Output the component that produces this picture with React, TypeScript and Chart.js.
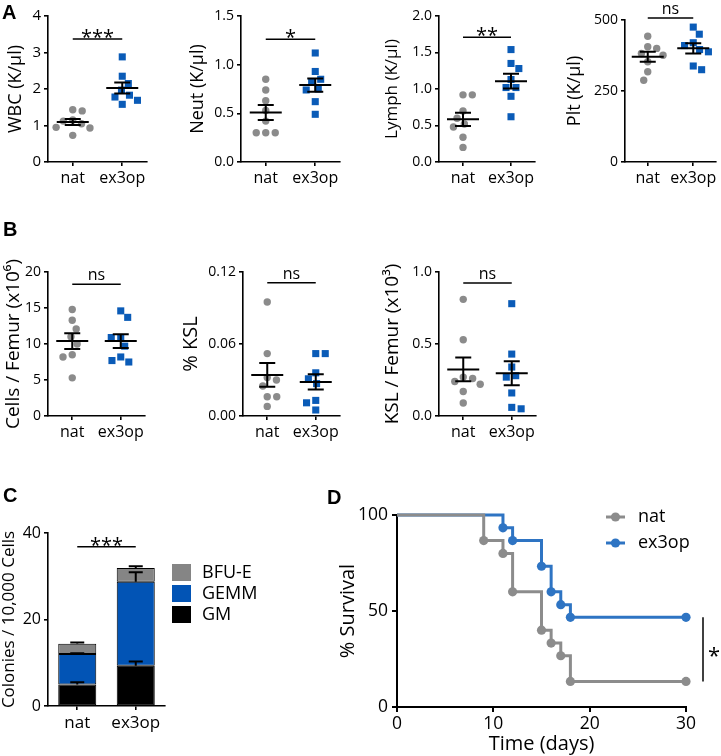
import React, { useEffect, useRef } from 'react';
import { Chart, registerables } from 'chart.js';

Chart.register(...registerables);

const FONT = '"Open Sans", "Noto Sans", sans-serif';
const LETTER_FONT = '"Liberation Sans", Arial, sans-serif';
Chart.defaults.font.family = FONT;
Chart.defaults.color = '#000';

// ---------------- data ----------------
const GROUPS = ['nat', 'ex3op'];

// Panel A – peripheral blood counts
const wbcNat = [1.43, 1.40, 1.15, 1.12, 1.05, 0.95, 0.93, 0.73];
const wbcEx3op = [2.88, 2.35, 2.15, 1.97, 1.83, 1.78, 1.69, 1.58];
const wbcTicks = [0, 1, 2, 3, 4];

const neutNat = [0.85, 0.74, 0.63, 0.53, 0.42, 0.30, 0.30, 0.30];
const neutEx3op = [1.12, 0.93, 0.85, 0.82, 0.75, 0.74, 0.62, 0.49];
const neutTicks = [0, 0.5, 1.0, 1.5];

const lymphNat = [0.92, 0.92, 0.70, 0.60, 0.52, 0.48, 0.34, 0.20];
const lymphEx3op = [1.54, 1.35, 1.28, 1.13, 1.02, 1.02, 0.90, 0.62];
const lymphTicks = [0, 0.5, 1.0, 1.5, 2.0];

const pltNat = [443, 406, 400, 382, 376, 353, 318, 288];
const pltEx3op = [475, 450, 420, 410, 396, 388, 338, 325];
const pltTicks = [0, 250, 500];

// Panel B – bone marrow
const cellsNat = [14.8, 13.3, 12.1, 11.0, 10.0, 8.5, 8.2, 5.3];
const cellsEx3op = [14.6, 13.7, 10.9, 10.9, 9.7, 8.2, 7.7, 7.5];
const cellsTicks = [0, 5, 10, 15, 20];

const kslPctNat = [0.095, 0.052, 0.032, 0.030, 0.025, 0.016, 0.016, 0.008];
const kslPctEx3op = [0.052, 0.052, 0.036, 0.031, 0.027, 0.013, 0.011, 0.005];
const kslPctTicks = [0, 0.06, 0.12];

const kslNat = [0.81, 0.53, 0.27, 0.26, 0.24, 0.22, 0.17, 0.09];
const kslEx3op = [0.78, 0.43, 0.34, 0.28, 0.27, 0.16, 0.06, 0.05];
const kslTicks = [0, 0.5, 1.0];

// Panel C – colonies (stacked), order bottom -> top
const colonyTypes = ['GM', 'GEMM', 'BFU-E'];
const gmColonies = [5.0, 9.3];
const gemmColonies = [7.0, 19.4];
const bfuColonies = [2.4, 3.2];
const gmErr = [0.5, 1.0];
const gemmErr = [0.2, 2.2];
const bfuErr = [0.3, 0.4];
const colonyTicks = [0, 20, 40];

// Panel D – survival
const natDays = [0, 9, 11, 12, 15, 16, 17, 18, 30];
const natSurvival = [100, 86.7, 80, 60, 40, 33.3, 26.7, 13.3, 13.3];
const ex3opDays = [0, 11, 12, 15, 16, 17, 18, 30];
const ex3opSurvival = [100, 93.3, 86.7, 73.3, 60, 53.3, 46.7, 46.7];
const survivalTicks = [0, 50, 100];
const dayTicks = [0, 10, 20, 30];

// ---------------- colours ----------------
const DOT_GRAY = '#8b8b8b';
const SQUARE_BLUE = '#0a5bb7';
const BAR_COLORS = ['#000000', '#0254b5', '#858585'];
const LINE_GRAY = '#8c8c8c';
const LINE_BLUE = '#2e74c3';

// ---------------- helpers ----------------
function meanSem(values: number[]) {
  const n = values.length;
  const mean = values.reduce((a, b) => a + b, 0) / n;
  const sd = Math.sqrt(values.reduce((a, b) => a + (b - mean) ** 2, 0) / (n - 1));
  return { mean, sem: sd / Math.sqrt(n) };
}

function beeswarmOffsets(values: number[], pxPerUnit: number, spacing: number): number[] {
  const order = values.map((_, i) => i).sort((a, b) => values[b] - values[a]);
  const placed: { x: number; y: number }[] = [];
  const out = new Array(values.length).fill(0);
  let flip = 1;
  for (const i of order) {
    const y = values[i] * pxPerUnit;
    const blocks: [number, number][] = [];
    for (const p of placed) {
      const dy = Math.abs(p.y - y);
      if (dy < spacing) {
        const dx = Math.sqrt(spacing * spacing - dy * dy);
        blocks.push([p.x - dx, p.x + dx]);
      }
    }
    const cands = [0];
    blocks.forEach(([a, b]) => cands.push(a, b));
    cands.sort((a, b) => Math.abs(a) - Math.abs(b) || (b - a) * flip);
    let x = 0;
    for (const c of cands) {
      if (blocks.every(([a, b]) => c <= a + 1e-6 || c >= b - 1e-6)) { x = c; break; }
    }
    if (x !== 0) flip = -flip;
    placed.push({ x, y });
    out[i] = x;
  }
  return out;
}

function drawSig(ctx: CanvasRenderingContext2D, x1: number, x2: number, y: number, label: string) {
  ctx.save();
  ctx.strokeStyle = '#000';
  ctx.lineWidth = 1.5;
  ctx.beginPath();
  ctx.moveTo(x1, y);
  ctx.lineTo(x2, y);
  ctx.stroke();
  ctx.fillStyle = '#000';
  ctx.textAlign = 'center';
  ctx.textBaseline = 'alphabetic';
  if (label.includes('*')) {
    ctx.font = `20px ${FONT}`;
    ctx.fillText(label, (x1 + x2) / 2, y + 5);
  } else {
    ctx.font = `16px ${FONT}`;
    ctx.fillText(label, (x1 + x2) / 2, y - 4);
  }
  ctx.restore();
}

type Box = { left: number; top: number; width: number; height: number };

function axisStyle(tickSize: number, lineW = 1.6, tickLen = 4) {
  return {
    grid: { display: true, drawOnChartArea: false, drawTicks: true, tickLength: tickLen, color: '#000', lineWidth: lineW },
    border: { display: true, color: '#000', width: lineW },
    ticks: { color: '#000', font: { family: FONT, size: tickSize } },
  };
}

interface ScatterSpec {
  box: Box; axisX: number; plotTop: number; plotBottom: number; plotRight: number;
  ticks: number[]; decimals: number; title: string; titleSize: number; titleCenter: number;
  tickSize: number; labelSize: number; nat: number[]; ex: number[]; sigY: number; sig: string;
}

const scatterPanels: ScatterSpec[] = [
  { box: { left: 0, top: 0, width: 170, height: 192 }, axisX: 48, plotTop: 16, plotBottom: 162, plotRight: 147,
    ticks: wbcTicks, decimals: 0, title: 'WBC (K/µl)', titleSize: 18, titleCenter: 15.5, tickSize: 15, labelSize: 16,
    nat: wbcNat, ex: wbcEx3op, sigY: 3.37, sig: '***' },
  { box: { left: 180, top: 0, width: 175, height: 192 }, axisX: 241, plotTop: 16, plotBottom: 162, plotRight: 340,
    ticks: neutTicks, decimals: 1, title: 'Neut (K/µl)', titleSize: 18, titleCenter: 197.5, tickSize: 14, labelSize: 16,
    nat: neutNat, ex: neutEx3op, sigY: 1.26, sig: '*' },
  { box: { left: 360, top: 0, width: 180, height: 192 }, axisX: 439, plotTop: 16, plotBottom: 162, plotRight: 537,
    ticks: lymphTicks, decimals: 1, title: 'Lymph (K/µl)', titleSize: 17, titleCenter: 392.5, tickSize: 14, labelSize: 16,
    nat: lymphNat, ex: lymphEx3op, sigY: 1.71, sig: '**' },
  { box: { left: 545, top: 0, width: 176, height: 192 }, axisX: 625, plotTop: 20, plotBottom: 162, plotRight: 720,
    ticks: pltTicks, decimals: 0, title: 'Plt (K/µl)', titleSize: 18, titleCenter: 575, tickSize: 14, labelSize: 16,
    nat: pltNat, ex: pltEx3op, sigY: 507, sig: 'ns' },
  { box: { left: 0, top: 240, width: 175, height: 202 }, axisX: 48, plotTop: 272, plotBottom: 416, plotRight: 145,
    ticks: cellsTicks, decimals: 0, title: 'Cells / Femur (x10⁶)', titleSize: 19, titleCenter: 14, tickSize: 14, labelSize: 16,
    nat: cellsNat, ex: cellsEx3op, sigY: 18.3, sig: 'ns' },
  { box: { left: 175, top: 240, width: 175, height: 202 }, axisX: 243, plotTop: 272, plotBottom: 416, plotRight: 340,
    ticks: kslPctTicks, decimals: 2, title: '% KSL', titleSize: 20, titleCenter: 191, tickSize: 14, labelSize: 16,
    nat: kslPctNat, ex: kslPctEx3op, sigY: 0.111, sig: 'ns' },
  { box: { left: 360, top: 240, width: 185, height: 202 }, axisX: 439, plotTop: 272, plotBottom: 416, plotRight: 536,
    ticks: kslTicks, decimals: 1, title: 'KSL / Femur (x10³)', titleSize: 19, titleCenter: 393, tickSize: 14, labelSize: 16,
    nat: kslNat, ex: kslEx3op, sigY: 0.924, sig: 'ns' },
];

// ---------------- scatter (dot plot) panels ----------------
function ScatterPanel({ spec }: { spec: ScatterSpec }) {
  const ref = useRef<HTMLCanvasElement>(null);
  useEffect(() => {
    const s = spec;
    const yMin = s.ticks[0];
    const yMax = s.ticks[s.ticks.length - 1];
    const pxPerY = (s.plotBottom - s.plotTop) / (yMax - yMin);
    const pxPerX = (s.plotRight - s.axisX) / 2;
    const toPoints = (vals: number[], cat: number) => {
      const offs = beeswarmOffsets(vals, pxPerY, 9.5);
      return vals.map((v, i) => ({ x: cat + offs[i] / pxPerX, y: v }));
    };
    const titleLH = s.titleSize * 1.2;
    const ax = axisStyle(s.tickSize);
    const axX = axisStyle(s.labelSize);

    const meanSemPlugin = {
      id: 'meanSem',
      afterDatasetsDraw(chart: any) {
        const { ctx } = chart;
        const xs = chart.scales.x, ys = chart.scales.y;
        [s.nat, s.ex].forEach((vals, i) => {
          const { mean, sem } = meanSem(vals);
          const cx = xs.getPixelForValue(i + 1);
          const ym = ys.getPixelForValue(mean);
          const yh = ys.getPixelForValue(mean + sem);
          const yl = ys.getPixelForValue(mean - sem);
          ctx.save();
          ctx.strokeStyle = '#000';
          ctx.lineWidth = 2;
          ctx.beginPath();
          ctx.moveTo(cx - 16, ym); ctx.lineTo(cx + 16, ym);
          ctx.moveTo(cx, yh); ctx.lineTo(cx, yl);
          ctx.moveTo(cx - 8, yh); ctx.lineTo(cx + 8, yh);
          ctx.moveTo(cx - 8, yl); ctx.lineTo(cx + 8, yl);
          ctx.stroke();
          ctx.restore();
        });
      },
      afterDraw(chart: any) {
        const xs = chart.scales.x, ys = chart.scales.y;
        drawSig(chart.ctx, xs.getPixelForValue(1), xs.getPixelForValue(2), ys.getPixelForValue(s.sigY), s.sig);
      },
    };

    const chart = new Chart(ref.current as HTMLCanvasElement, {
      type: 'scatter',
      data: {
        datasets: [
          { label: GROUPS[0], data: toPoints(s.nat, 1), pointStyle: 'circle', pointRadius: 3.7,
            backgroundColor: DOT_GRAY, borderWidth: 0, clip: false } as any,
          { label: GROUPS[1], data: toPoints(s.ex, 2), pointStyle: 'rect', pointRadius: 5.0,
            backgroundColor: SQUARE_BLUE, borderWidth: 0, clip: false } as any,
        ],
      },
      options: {
        animation: false,
        responsive: false,
        events: [],
        layout: { padding: { left: 0, bottom: 0, top: s.plotTop - s.box.top, right: s.box.left + s.box.width - s.plotRight } },
        plugins: { legend: { display: false }, tooltip: { enabled: false } },
        scales: {
          x: {
            type: 'linear', min: 0.5, max: 2.5,
            grid: ax.grid, border: ax.border,
            afterBuildTicks: (sc: any) => { sc.ticks = GROUPS.map((_, i) => ({ value: i + 1 })); },
            ticks: { ...axX.ticks, padding: 3, autoSkip: false, maxRotation: 0,
              callback: (v: any) => GROUPS[Math.round(Number(v)) - 1] ?? '' },
            afterFit: (sc: any) => { sc.height = s.box.top + s.box.height - s.plotBottom; },
          },
          y: {
            type: 'linear', min: yMin, max: yMax,
            grid: ax.grid, border: ax.border,
            afterBuildTicks: (sc: any) => { sc.ticks = s.ticks.map((v) => ({ value: v })); },
            ticks: { ...ax.ticks, padding: 3, callback: (v: any) => Number(v).toFixed(s.decimals) },
            title: { display: true, text: s.title, color: '#000', font: { family: FONT, size: s.titleSize },
              padding: { top: s.titleCenter - s.box.left - titleLH / 2, bottom: 0 } },
            afterFit: (sc: any) => { sc.width = s.axisX - s.box.left; },
          },
        },
      } as any,
      plugins: [meanSemPlugin],
    });
    return () => chart.destroy();
  }, [spec]);
  return (
    <canvas ref={ref} width={spec.box.width} height={spec.box.height}
      style={{ position: 'absolute', left: spec.box.left, top: spec.box.top, width: spec.box.width, height: spec.box.height }} />
  );
}

// ---------------- Panel C: stacked bars ----------------
function ColonyPanel() {
  const ref = useRef<HTMLCanvasElement>(null);
  const box: Box = { left: 0, top: 515, width: 300, height: 241 };
  const axisX = 48, plotTop = 533, plotBottom = 706, plotRight = 165;
  useEffect(() => {
    const values = [gmColonies, gemmColonies, bfuColonies];
    const errors = [gmErr, gemmErr, bfuErr];
    const ax = axisStyle(16);
    const axX = axisStyle(17);
    const titleSize = 17;
    const plugin = {
      id: 'colonyExtras',
      afterDatasetsDraw(chart: any) {
        const { ctx } = chart;
        const xs = chart.scales.x, ys = chart.scales.y;
        ctx.save();
        ctx.strokeStyle = '#000';
        ctx.lineWidth = 2;
        GROUPS.forEach((_, j) => {
          let cum = 0;
          values.forEach((vals, i) => {
            cum += vals[j];
            const cx = xs.getPixelForValue(j);
            const y0 = ys.getPixelForValue(cum);
            const y1 = ys.getPixelForValue(cum + errors[i][j]);
            ctx.beginPath();
            ctx.moveTo(cx, y0); ctx.lineTo(cx, y1);
            ctx.moveTo(cx - 7, y1); ctx.lineTo(cx + 7, y1);
            ctx.stroke();
          });
        });
        ctx.restore();
      },
      afterDraw(chart: any) {
        const { ctx, chartArea } = chart;
        const xs = chart.scales.x, ys = chart.scales.y;
        drawSig(ctx, xs.getPixelForValue(0), xs.getPixelForValue(1), ys.getPixelForValue(36.8), '***');
        ctx.save();
        ctx.font = `18px ${FONT}`;
        ctx.textBaseline = 'middle';
        ctx.textAlign = 'left';
        const order = [2, 1, 0];
        order.forEach((di, row) => {
          const yTop = chartArea.top + 31 + row * 21;
          ctx.fillStyle = BAR_COLORS[di];
          ctx.fillRect(chartArea.right + 7, yTop, 19, 17);
          ctx.fillStyle = '#000';
          ctx.fillText(colonyTypes[di], chartArea.right + 37, yTop + 9);
        });
        ctx.restore();
      },
    };
    const chart = new Chart(ref.current as HTMLCanvasElement, {
      type: 'bar',
      data: {
        labels: GROUPS,
        datasets: values.map((vals, i) => ({
          label: colonyTypes[i], data: vals, backgroundColor: BAR_COLORS[i],
          borderColor: '#000', borderWidth: 1, borderSkipped: false,
          barPercentage: 0.65, categoryPercentage: 1,
        })),
      },
      options: {
        animation: false,
        responsive: false,
        events: [],
        layout: { padding: { left: 0, bottom: 0, top: plotTop - box.top, right: box.left + box.width - plotRight } },
        plugins: { legend: { display: false }, tooltip: { enabled: false } },
        scales: {
          x: {
            type: 'category', stacked: true,
            grid: { ...ax.grid, offset: false }, border: ax.border,
            ticks: { ...axX.ticks, padding: 3, maxRotation: 0 },
            afterFit: (sc: any) => { sc.height = box.top + box.height - plotBottom; },
          },
          y: {
            type: 'linear', stacked: true, min: colonyTicks[0], max: colonyTicks[colonyTicks.length - 1],
            grid: ax.grid, border: ax.border,
            afterBuildTicks: (sc: any) => { sc.ticks = colonyTicks.map((v) => ({ value: v })); },
            ticks: { ...ax.ticks, padding: 3 },
            title: { display: true, text: 'Colonies / 10,000 Cells', color: '#000', font: { family: FONT, size: titleSize },
              padding: { top: 9 - titleSize * 0.6, bottom: 0 } },
            afterFit: (sc: any) => { sc.width = axisX - box.left; },
          },
        },
      } as any,
      plugins: [plugin],
    });
    return () => chart.destroy();
  }, []);
  return (
    <canvas ref={ref} width={box.width} height={box.height}
      style={{ position: 'absolute', left: box.left, top: box.top, width: box.width, height: box.height }} />
  );
}

// ---------------- Panel D: survival ----------------
function SurvivalPanel() {
  const ref = useRef<HTMLCanvasElement>(null);
  const box: Box = { left: 320, top: 480, width: 401, height: 276 };
  const axisX = 397, plotTop = 515, plotBottom = 707, plotRight = 686;
  useEffect(() => {
    const ax = axisStyle(17.5, 2, 5);
    const titleSize = 20;
    const series = [
      { label: GROUPS[0], days: natDays, surv: natSurvival, color: LINE_GRAY },
      { label: GROUPS[1], days: ex3opDays, surv: ex3opSurvival, color: LINE_BLUE },
    ];
    const plugin = {
      id: 'survivalExtras',
      afterDraw(chart: any) {
        const { ctx, chartArea } = chart;
        const ys = chart.scales.y;
        ctx.save();
        ctx.font = `18px ${FONT}`;
        ctx.textBaseline = 'middle';
        ctx.textAlign = 'left';
        series.forEach((sr, row) => {
          const y = chartArea.top + 2 + row * 26;
          const lx = chartArea.right - 80;
          ctx.strokeStyle = sr.color;
          ctx.fillStyle = sr.color;
          ctx.lineWidth = 3;
          ctx.beginPath(); ctx.moveTo(lx, y); ctx.lineTo(lx + 19, y); ctx.stroke();
          ctx.beginPath(); ctx.arc(lx + 9.5, y, 4.6, 0, Math.PI * 2); ctx.fill();
          ctx.fillStyle = '#000';
          ctx.fillText(sr.label, chartArea.right - 48, y);
        });
        const yA = ys.getPixelForValue(ex3opSurvival[ex3opSurvival.length - 1]);
        const yB = ys.getPixelForValue(natSurvival[natSurvival.length - 1]);
        const bx = chartArea.right + 17;
        ctx.strokeStyle = '#000';
        ctx.lineWidth = 1.5;
        ctx.beginPath(); ctx.moveTo(bx, yA); ctx.lineTo(bx, yB); ctx.stroke();
        ctx.fillStyle = '#000';
        ctx.font = `22px ${FONT}`;
        ctx.textAlign = 'center';
        ctx.textBaseline = 'alphabetic';
        ctx.fillText('*', bx + 11, (yA + yB) / 2 + 14);
        ctx.restore();
      },
    };
    const chart = new Chart(ref.current as HTMLCanvasElement, {
      type: 'line',
      data: {
        datasets: series.map((sr) => ({
          label: sr.label,
          data: sr.days.map((d, i) => ({ x: d, y: sr.surv[i] })),
          borderColor: sr.color, backgroundColor: sr.color, pointBackgroundColor: sr.color,
          borderWidth: 3, stepped: 'before', fill: false, clip: false,
          pointRadius: (c: any) => (c.dataIndex === 0 ? 0 : 4.6), pointBorderWidth: 0,
        })),
      },
      options: {
        animation: false,
        responsive: false,
        events: [],
        layout: { padding: { left: 0, bottom: 0, top: plotTop - box.top, right: box.left + box.width - plotRight } },
        plugins: { legend: { display: false }, tooltip: { enabled: false } },
        scales: {
          x: {
            type: 'linear', min: dayTicks[0], max: dayTicks[dayTicks.length - 1],
            grid: ax.grid, border: ax.border,
            afterBuildTicks: (sc: any) => { sc.ticks = dayTicks.map((v) => ({ value: v })); },
            ticks: { ...ax.ticks, padding: 2, maxRotation: 0 },
            title: { display: true, text: 'Time (days)', color: '#000', font: { family: FONT, size: titleSize }, padding: { top: 0, bottom: 0 } },
            afterFit: (sc: any) => { sc.height = box.top + box.height - plotBottom; },
          },
          y: {
            type: 'linear', min: survivalTicks[0], max: survivalTicks[survivalTicks.length - 1],
            grid: ax.grid, border: ax.border,
            afterBuildTicks: (sc: any) => { sc.ticks = survivalTicks.map((v) => ({ value: v })); },
            ticks: { ...ax.ticks, padding: 4 },
            title: { display: true, text: '% Survival', color: '#000', font: { family: FONT, size: titleSize },
              padding: { top: 348 - box.left - titleSize * 0.6, bottom: 0 } },
            afterFit: (sc: any) => { sc.width = axisX - box.left; },
          },
        },
      } as any,
      plugins: [plugin],
    });
    return () => chart.destroy();
  }, []);
  return (
    <canvas ref={ref} width={box.width} height={box.height}
      style={{ position: 'absolute', left: box.left, top: box.top, width: box.width, height: box.height }} />
  );
}

function Letter({ text, left, top }: { text: string; left: number; top: number }) {
  return (
    <div style={{ position: 'absolute', left, top, font: `bold 20px ${LETTER_FONT}`, lineHeight: '20px', color: '#000' }}>
      {text}
    </div>
  );
}

export default function App() {
  return (
    <div style={{ position: 'absolute', left: 0, top: 0, width: 721, height: 756, background: '#fff', overflow: 'hidden' }}>
      {scatterPanels.map((sp, i) => <ScatterPanel key={i} spec={sp} />)}
      <ColonyPanel />
      <SurvivalPanel />
      <Letter text="A" left={2} top={2} />
      <Letter text="B" left={3} top={219} />
      <Letter text="C" left={3} top={485} />
      <Letter text="D" left={327} top={487} />
    </div>
  );
}
